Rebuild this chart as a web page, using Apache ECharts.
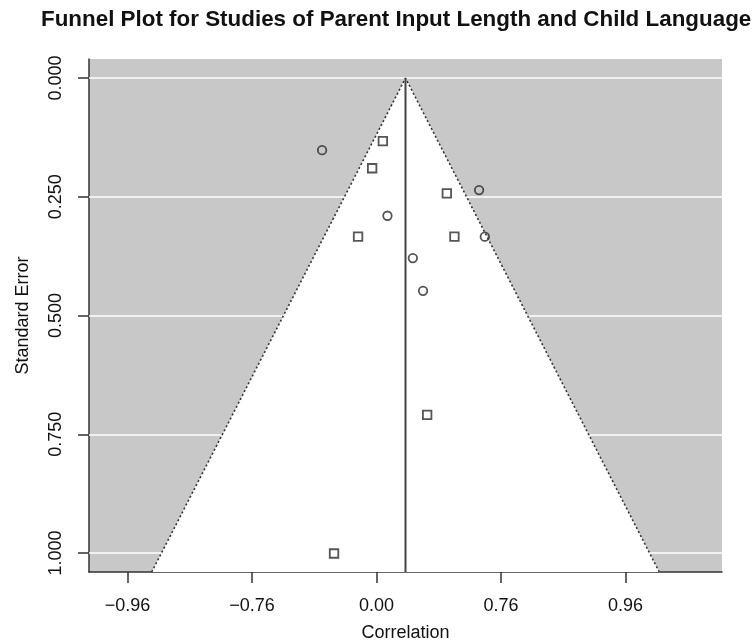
<!DOCTYPE html>
<html>
<head>
<meta charset="utf-8">
<title>Funnel Plot</title>
<script src="https://cdn.jsdelivr.net/npm/echarts@6/dist/echarts.min.js"></script>
<style>
  html, body { margin: 0; padding: 0; background: #ffffff; }
  #chart { width: 754px; height: 642px; }
</style>
</head>
<body>
<div id="chart"></div>
<script>
// Study effects on the Fisher z scale, with their standard errors
const circleZ  = [-0.437, 0.088, 0.824, 0.870, 0.292, 0.374];
const circleSE = [0.152, 0.290, 0.236, 0.334, 0.379, 0.448];
const squareZ  = [0.051, -0.035, -0.148, 0.565, 0.626, 0.407, -0.341];
const squareSE = [0.133, 0.190, 0.334, 0.243, 0.334, 0.709, 1.001];

// Pooled estimate (Fisher z) and the pseudo-confidence multiplier
const pooledZ = 0.233;
const zCrit = 1.96;

// Axis ticks: x positions on the z scale, labelled as correlations
const xTickZ = [-2, -1, 0, 1, 2];
const xTickLabels = ['\u22120.96', '\u22120.76', '0.00', '0.76', '0.96'];
const yTicks = [0, 0.25, 0.5, 0.75, 1];
const yTickLabels = ['0.000', '0.250', '0.500', '0.750', '1.000'];

// Axis limits
const xMin = -2.309, xMax = 2.775;
const seMin = -0.04, seMax = 1.04;

const FONT = '"Liberation Sans", Arial, Helvetica, sans-serif';
const INK = '#333333';

const pairs = (xs, ys) => xs.map((x, i) => [x, ys[i]]);

// Funnel region (pooled estimate +/- zCrit * SE down to the bottom of the plot)
const funnelPts = [
  [pooledZ - zCrit * seMax, seMax],
  [pooledZ, 0],
  [pooledZ + zCrit * seMax, seMax]
];

const chart = echarts.init(document.getElementById('chart'), null, { renderer: 'canvas' });

chart.setOption({
  animation: false,
  backgroundColor: '#ffffff',
  title: {
    text: 'Funnel Plot for Studies of Parent Input Length and Child Language',
    left: 41,
    top: 9,
    padding: 0,
    textStyle: { fontFamily: FONT, fontSize: 22.4, fontWeight: 'bold', color: '#111111' }
  },
  grid: {
    left: 89, top: 59, width: 633, height: 513,
    outerBoundsMode: 'none',
    containLabel: false,
    show: true, backgroundColor: '#c8c8c8', borderWidth: 0
  },
  xAxis: {
    type: 'value',
    min: xMin, max: xMax,
    axisLine: { show: true, onZero: false, lineStyle: { color: INK, width: 1.5 } },
    axisTick: { show: true, customValues: xTickZ, length: 11, lineStyle: { color: INK, width: 1.5 } },
    axisLabel: {
      customValues: xTickZ,
      formatter: v => xTickLabels[xTickZ.indexOf(v)],
      fontFamily: FONT, fontSize: 18, color: '#111111', margin: 25
    },
    splitLine: { show: false },
    name: 'Correlation',
    nameLocation: 'middle',
    nameGap: 52,
    nameTextStyle: { fontFamily: FONT, fontSize: 18, color: '#111111' }
  },
  yAxis: {
    type: 'value',
    inverse: true,
    min: seMin, max: seMax,
    axisLine: { show: true, onZero: false, lineStyle: { color: INK, width: 1.5 } },
    axisTick: { show: true, customValues: yTicks, length: 11, lineStyle: { color: INK, width: 1.5 } },
    axisLabel: {
      customValues: yTicks,
      formatter: v => yTickLabels[yTicks.indexOf(v)],
      rotate: 90,
      fontFamily: FONT, fontSize: 18, color: '#111111', margin: 24
    },
    splitLine: { show: false },
    name: 'Standard Error',
    nameLocation: 'middle',
    nameRotate: 90,
    nameGap: 57,
    nameTextStyle: { fontFamily: FONT, fontSize: 18, color: '#111111' }
  },
  series: [
    {
      // white funnel over the grey background, with white reference lines at the SE ticks
      type: 'custom',
      silent: true,
      clip: true,
      data: [0],
      renderItem: (params, api) => ({
        type: 'polygon',
        shape: { points: funnelPts.map(p => api.coord(p)) },
        style: { fill: '#ffffff', stroke: 'none' }
      }),
      markLine: {
        z: 1,
        silent: true,
        symbol: 'none',
        label: { show: false },
        lineStyle: { color: '#ffffff', width: 1.5, type: 'solid' },
        data: yTicks.map(v => ({ yAxis: v }))
      },
      z: 1
    },
    {
      // dotted funnel edges
      type: 'line',
      data: funnelPts,
      symbol: 'none',
      silent: true,
      clip: true,
      lineStyle: { color: INK, width: 1.6, type: [2, 2.4] },
      z: 2
    },
    {
      // pooled estimate
      type: 'line',
      data: [[pooledZ, 0], [pooledZ, seMax]],
      symbol: 'none',
      silent: true,
      lineStyle: { color: '#444444', width: 2 },
      z: 3
    },
    {
      type: 'scatter',
      data: pairs(circleZ, circleSE),
      symbol: 'circle',
      symbolSize: 8.5,
      itemStyle: { color: 'rgba(0,0,0,0)', borderColor: '#2a2a2a', borderWidth: 1.8 },
      z: 4
    },
    {
      type: 'scatter',
      data: pairs(squareZ, squareSE),
      symbol: 'rect',
      symbolSize: 8.5,
      itemStyle: { color: 'rgba(0,0,0,0)', borderColor: '#2a2a2a', borderWidth: 1.8 },
      z: 4
    }
  ]
});
</script>
</body>
</html>
